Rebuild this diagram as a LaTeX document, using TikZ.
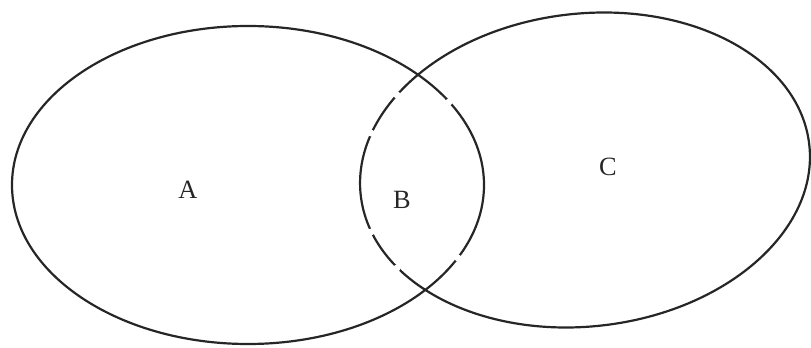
\documentclass[tikz,border=0pt]{standalone}
\usepackage{fontspec}
\setmainfont{Liberation Serif}

\definecolor{vnink}{RGB}{38,38,38}

\begin{document}
\begin{tikzpicture}[
  x=0.02cm,
  y=-0.02cm,
  every node/.style={inner sep=0pt, outer sep=0pt},
  vnLine/.style={draw=vnink, line width=1.25pt},
  vnLabel/.style={font=\fontsize{15}{15}\selectfont, text=vnink},
  vnGap/.style={fill=white}
]

  \path[use as bounding box] (0,0) rectangle (811,348);

  % left set
  \draw[vnLine] (248,185) ellipse [x radius=236, y radius=159];

  % right set, tilted a little
  \draw[vnLine, rotate around={6.5:(585,170)}]
    (585,170) ellipse [x radius=225.7, y radius=156.4];

  % breaks on the inner arcs
  \fill[vnGap] (449,102) circle (3.5) (458,258) circle (3.5)
    (397,95) circle (3.5) (371,133) circle (3.5)
    (371,232) circle (3.5) (397,268) circle (3.5);

  \node[vnLabel] (labA) at (188,190) {A};
  \node[vnLabel] (labB) at (402,200) {B};
  \node[vnLabel] (labC) at (608,167) {C};

\end{tikzpicture}
\end{document}
